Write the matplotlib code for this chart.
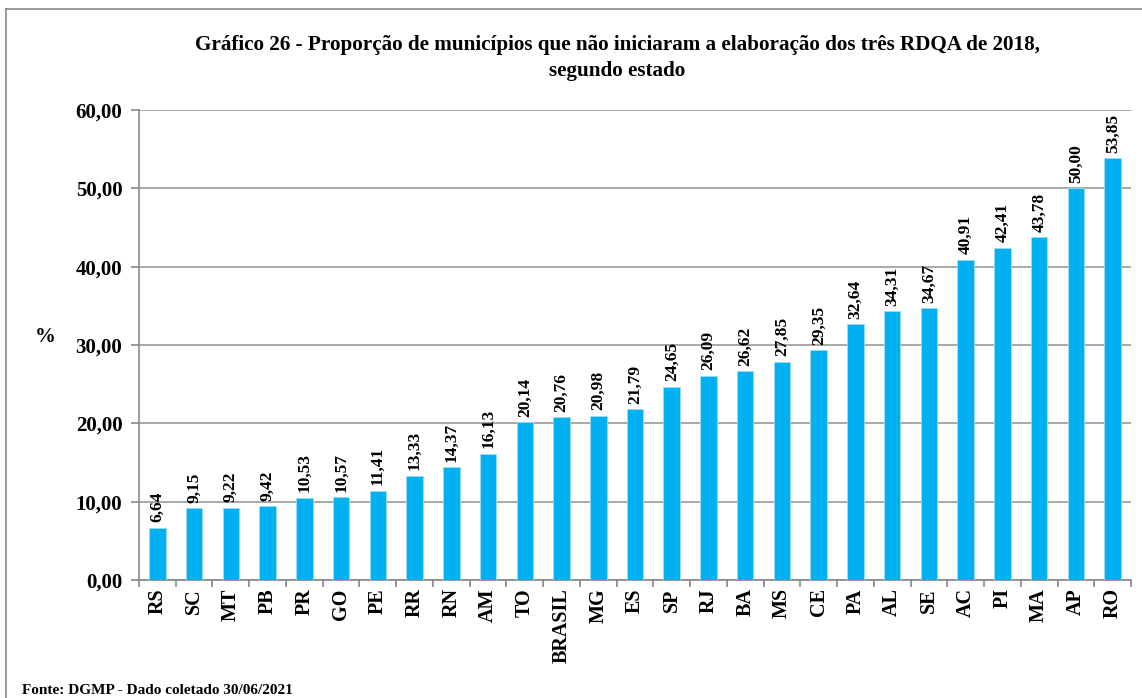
import matplotlib
matplotlib.use("Agg")
import matplotlib.pyplot as plt
from matplotlib.lines import Line2D

categories = ["RS", "SC", "MT", "PB", "PR", "GO", "PE", "RR", "RN", "AM", "TO", "BRASIL",
              "MG", "ES", "SP", "RJ", "BA", "MS", "CE", "PA", "AL", "SE", "AC", "PI", "MA", "AP", "RO"]
values = [6.64, 9.15, 9.22, 9.42, 10.53, 10.57, 11.41, 13.33, 14.37, 16.13, 20.14, 20.76,
          20.98, 21.79, 24.65, 26.09, 26.62, 27.85, 29.35, 32.64, 34.31, 34.67, 40.91, 42.41,
          43.78, 50.00, 53.85]
yticks = [0, 10, 20, 30, 40, 50, 60]

title = ("Gráfico 26 - Proporção de municípios que não iniciaram a elaboração dos três RDQA de 2018,\n"
         "segundo estado")
source = "Fonte: DGMP - Dado coletado 30/06/2021"

plt.rcParams['font.family'] = ['Liberation Serif', 'DejaVu Serif']
plt.rcParams['font.weight'] = 'bold'

W, H = 1142, 698
fig = plt.figure(figsize=(W / 100, H / 100), dpi=100)
# outer border (only top and left edges visible in the crop)
fig.lines.append(Line2D([6 / W, 6 / W], [0, 1 - 9 / H], transform=fig.transFigure,
                        color='#888888', linewidth=1.2))
fig.lines.append(Line2D([6 / W, 1], [1 - 9 / H, 1 - 9 / H], transform=fig.transFigure,
                        color='#888888', linewidth=1.2))

ax = fig.add_axes([139 / W, 1 - 580 / H, (1131 - 139) / W, (580 - 110) / H])
n = len(categories)
x = list(range(n))
ax.bar(x, values, width=0.45, color='#00B0F0', edgecolor='#9fdcf5', linewidth=0.6, zorder=3)
ax.set_xlim(-0.5, n - 0.5)
ax.set_ylim(0, 60)
ax.set_yticks(yticks)
ax.set_yticklabels([f"{v:.2f}".replace('.', ',') for v in yticks], fontsize=15, fontweight='bold')
ax.yaxis.grid(True, color='#999999', linewidth=1.2, zorder=0)
ax.set_axisbelow(True)

ax.set_xticks([i - 0.5 for i in range(n + 1)])
ax.set_xticklabels([])
ax.set_xticks(x, minor=True)
ax.set_xticklabels(categories, minor=True, rotation=90, fontsize=14.5, fontweight='bold')
ax.tick_params(axis='x', which='minor', length=0, pad=6)
ax.tick_params(axis='x', which='major', length=5, color='#888888', width=1.2)
ax.tick_params(axis='y', length=6, color='#888888', width=1.2, pad=6)

for s in ['top', 'right']:
    ax.spines[s].set_visible(False)
for s in ['left', 'bottom']:
    ax.spines[s].set_color('#888888')
    ax.spines[s].set_linewidth(1.2)

for xi, v in zip(x, values):
    ax.annotate(f"{v:.2f}".replace('.', ','), (xi, v), xytext=(0, 4), textcoords='offset points',
                rotation=90, ha='center', va='bottom', fontsize=12.5, fontweight='bold')

fig.text(617 / W, 1 - 58 / H, title, ha='center', va='center', fontsize=15.2, fontweight='bold',
         linespacing=1.35)
fig.text(45 / W, 1 - 337 / H, "%", ha='center', va='center', fontsize=15, fontweight='bold')
fig.text(22 / W, 1 - 690 / H, source, ha='left', va='center', fontsize=11, fontweight='bold')

fig.savefig("out.png", dpi=100)
